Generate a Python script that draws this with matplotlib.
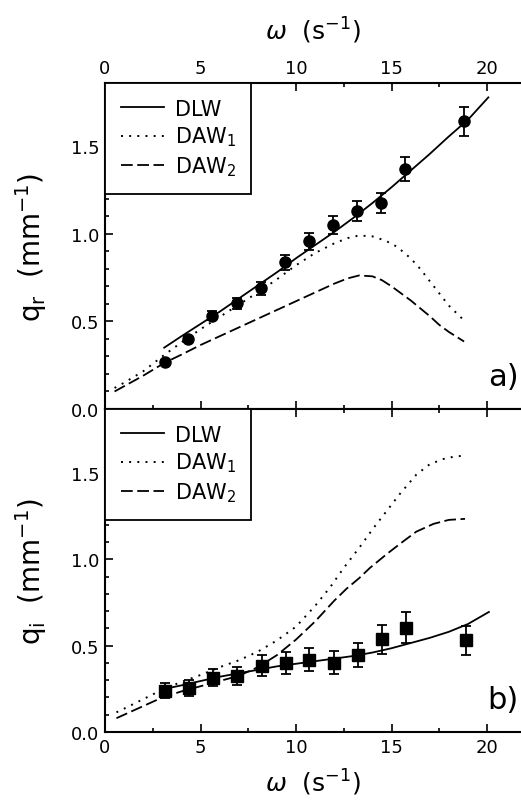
import numpy as np
import matplotlib.pyplot as plt
from matplotlib.ticker import MultipleLocator, FormatStrFormatter

plt.rcParams['font.family'] = ['DejaVu Sans']
plt.rcParams['mathtext.fontset'] = 'dejavusans'

#####################################################
# a) q_r -- o'lchangan nuqtalar va egri chiziqlar

w_pts = [3.14, 4.36, 5.62, 6.89, 8.15, 9.42, 10.68, 11.95, 13.18, 14.45, 15.71, 18.81]
qr_pts = [0.266, 0.40, 0.532, 0.603, 0.688, 0.837, 0.957, 1.051, 1.128, 1.175, 1.369, 1.641]
qr_err = [0.015, 0.018, 0.025, 0.03, 0.035, 0.043, 0.05, 0.053, 0.056, 0.058, 0.07, 0.083]

w_dlw_r = [3.1, 4, 5, 6, 7, 8, 9, 10, 11, 12, 13, 14, 15, 16, 17, 18, 19, 20.07]
qr_dlw = [0.35, 0.415, 0.485, 0.555, 0.63, 0.705, 0.78, 0.86, 0.935, 1.01, 1.09, 1.175,
          1.265, 1.36, 1.455, 1.555, 1.65, 1.778]

w_daw1_r = [0.5, 1, 2, 3, 4, 5, 6, 7, 8, 9, 10, 11, 12, 12.7, 13.3, 14, 14.7, 15.3,
            16, 16.5, 17, 17.5, 18, 18.8]
qr_daw1 = [0.12, 0.15, 0.215, 0.30, 0.38, 0.455, 0.525, 0.595, 0.665, 0.74, 0.82, 0.89,
           0.945, 0.975, 0.99, 0.985, 0.96, 0.925, 0.86, 0.80, 0.73, 0.66, 0.59, 0.505]

w_daw2_r = [0.5, 1, 2, 3.14, 4, 5, 6, 7, 8, 9, 10, 11, 12, 12.7, 13.3, 14, 14.5, 15,
            15.5, 16, 16.5, 17, 17.5, 18, 18.8]
qr_daw2 = [0.10, 0.13, 0.19, 0.265, 0.31, 0.365, 0.415, 0.465, 0.515, 0.565, 0.615, 0.665,
           0.715, 0.745, 0.762, 0.757, 0.735, 0.70, 0.66, 0.62, 0.575, 0.53, 0.48, 0.44, 0.385]

#####################################################
# b) q_i

wi_pts = [3.14, 4.42, 5.67, 6.93, 8.2, 9.46, 10.7, 11.99, 13.23, 14.49, 15.74, 18.88]
qi_pts = [0.24, 0.256, 0.314, 0.327, 0.385, 0.40, 0.419, 0.401, 0.444, 0.537, 0.603, 0.531]
qi_err = [0.043, 0.047, 0.05, 0.052, 0.06, 0.064, 0.068, 0.067, 0.07, 0.085, 0.09, 0.085]

w_dlw_i = [3.14, 4, 5, 6, 7, 8, 9, 10, 11, 12, 13, 14, 15, 16, 17, 18, 19, 20.1]
qi_dlw = [0.25, 0.27, 0.295, 0.32, 0.34, 0.36, 0.38, 0.395, 0.41, 0.425, 0.44, 0.46,
          0.485, 0.515, 0.545, 0.58, 0.625, 0.695]

w_daw1_i = [0.6, 1, 2, 3, 4, 5, 6, 7, 8, 9, 10, 11, 11.8, 12.5, 13.4, 14.05, 14.75,
            15.45, 16.3, 17, 17.7, 18.3, 18.85]
qi_daw1 = [0.114, 0.135, 0.19, 0.245, 0.29, 0.33, 0.375, 0.415, 0.465, 0.53, 0.61, 0.73,
           0.84, 0.95, 1.08, 1.18, 1.28, 1.38, 1.49, 1.55, 1.58, 1.595, 1.60]

w_daw2_i = [0.6, 1, 2, 3, 4, 5, 6, 7, 8, 9, 10, 11, 12, 12.65, 13.3, 13.87, 14.75,
            15.45, 16.3, 17.2, 18, 18.85]
qi_daw2 = [0.08, 0.10, 0.15, 0.20, 0.235, 0.265, 0.295, 0.325, 0.375, 0.445, 0.535, 0.64,
           0.76, 0.83, 0.89, 0.95, 1.03, 1.09, 1.16, 1.205, 1.228, 1.234]

#####################################################

fig = plt.figure(figsize=(5.21, 8.04), dpi=100)
W, H = 521, 804
ax1 = fig.add_axes([105 / W, 1 - 410 / H, (W - 105) / W, (410 - 84) / H])
ax2 = fig.add_axes([105 / W, 1 - 733 / H, (W - 105) / W, (733 - 410) / H])

ls_dot = (0, (1.0, 3.2))
ls_dash = (0, (6.5, 2.5))

for ax in (ax1, ax2):
    ax.set_xlim(0, 21.78)
    ax.xaxis.set_major_locator(MultipleLocator(5))
    ax.xaxis.set_minor_locator(MultipleLocator(2.5))
    ax.yaxis.set_major_locator(MultipleLocator(0.5))
    ax.yaxis.set_minor_locator(MultipleLocator(0.1))
    ax.yaxis.set_major_formatter(FormatStrFormatter('%.1f'))
    ax.tick_params(which='both', direction='in', top=True, bottom=True, right=False,
                   labelsize=13, width=1.2)
    ax.tick_params(which='major', length=6, pad=4)
    ax.tick_params(which='minor', length=3)
    ax.spines['right'].set_visible(False)
    for s in ('left', 'top', 'bottom'):
        ax.spines[s].set_linewidth(1.5)

xlab = r'$\omega$  (s$^{-1}$)'

# a)
ax1.set_ylim(0, 1.86)
ax1.plot(w_dlw_r, qr_dlw, 'k-', lw=1.3, label='DLW')
ax1.plot(w_daw1_r, qr_daw1, color='k', ls=ls_dot, lw=1.4, label='DAW$_1$')
ax1.plot(w_daw2_r, qr_daw2, color='k', ls=ls_dash, lw=1.3, label='DAW$_2$')
ax1.errorbar(w_pts, qr_pts, yerr=qr_err, fmt='o', color='k', ms=8, capsize=3.5,
             elinewidth=1.3, capthick=1.3)
ax1.tick_params(labeltop=True, labelbottom=False)
ax1.xaxis.set_label_position('top')
ax1.set_xlabel(xlab, fontsize=18, labelpad=15)
ax1.set_ylabel(r'q$_\mathrm{r}$  (mm$^{-1}$)', fontsize=20, labelpad=16)
ax1.text(0.995, 0.055, 'a)', transform=ax1.transAxes, fontsize=22, ha='right', va='bottom')

# b)
ax2.set_ylim(0, 1.87)
ax2.plot(w_dlw_i, qi_dlw, 'k-', lw=1.3, label='DLW')
ax2.plot(w_daw1_i, qi_daw1, color='k', ls=ls_dot, lw=1.4, label='DAW$_1$')
ax2.plot(w_daw2_i, qi_daw2, color='k', ls=ls_dash, lw=1.3, label='DAW$_2$')
ax2.errorbar(wi_pts, qi_pts, yerr=qi_err, fmt='s', color='k', ms=8, capsize=3.5,
             elinewidth=1.3, capthick=1.3)
ax2.set_xlabel(xlab, fontsize=18, labelpad=8)
ax2.set_ylabel(r'q$_\mathrm{i}$  (mm$^{-1}$)', fontsize=20, labelpad=16)
ax2.text(0.995, 0.055, 'b)', transform=ax2.transAxes, fontsize=22, ha='right', va='bottom')

for ax in (ax1, ax2):
    leg = ax.legend(loc='upper left', borderaxespad=0, fancybox=False, framealpha=1,
                    edgecolor='k', fontsize=15, handlelength=2.1, handletextpad=0.5,
                    borderpad=0.75, labelspacing=0.3)
    leg.get_frame().set_linewidth(1.3)

fig.savefig('out.png', dpi=100)
